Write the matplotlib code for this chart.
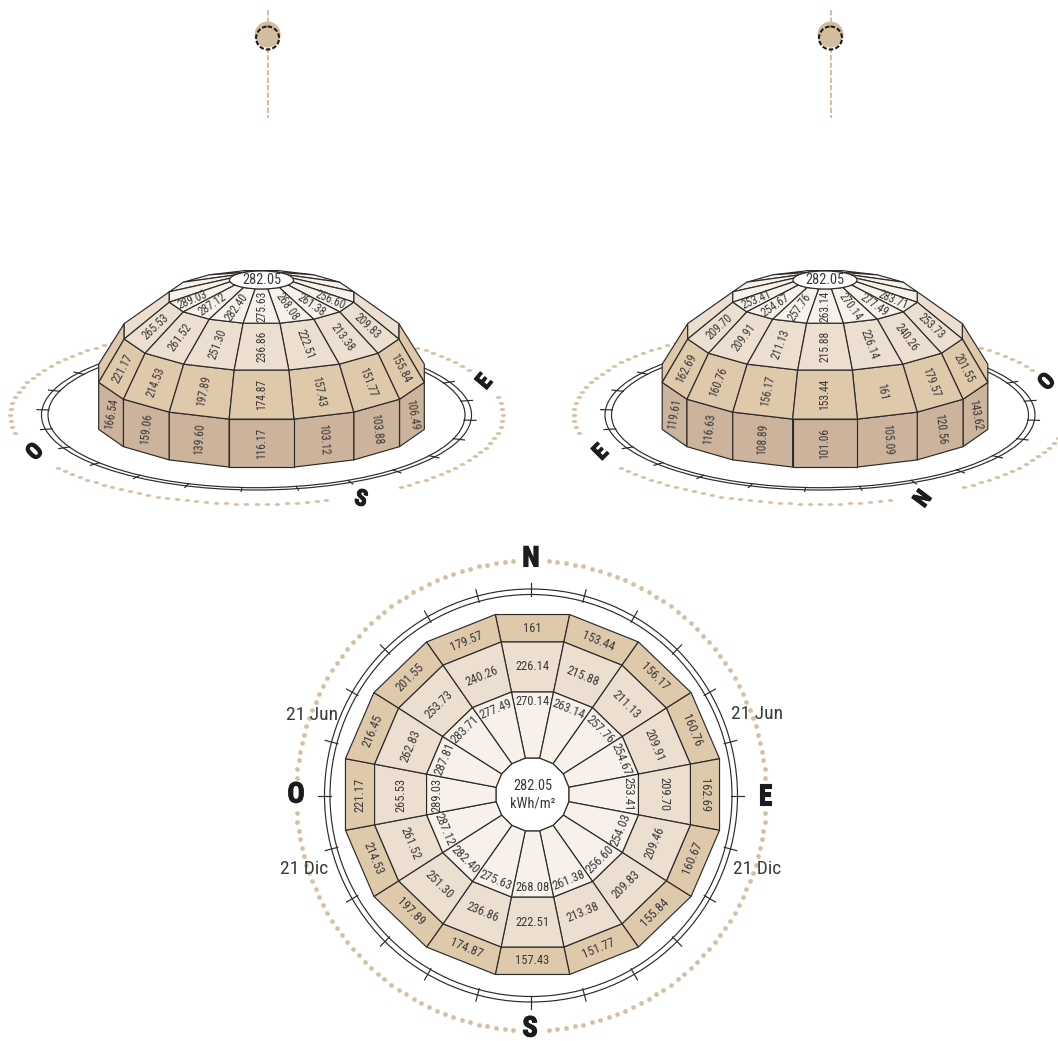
import matplotlib
matplotlib.use('Agg')
import matplotlib.pyplot as plt
import matplotlib.patheffects as pe
from matplotlib.patches import Polygon, Ellipse, Circle
from matplotlib.path import Path
import numpy as np

plt.rcParams['font.family'] = ['Roboto Condensed', 'Liberation Sans Narrow', 'Liberation Sans', 'DejaVu Sans']

# clockwise from north, one value per 22.5 degree sector
ring3 = [161, 153.44, 156.17, 160.76, 162.69, 160.67, 155.84, 151.77,
         157.43, 174.87, 197.89, 214.53, 221.17, 216.45, 201.55, 179.57]
ring2 = [226.14, 215.88, 211.13, 209.91, 209.70, 209.46, 209.83, 213.38,
         222.51, 236.86, 251.30, 261.52, 265.53, 262.83, 253.73, 240.26]
ring1 = [270.14, 263.14, 257.76, 254.67, 253.41, 254.03, 256.60, 261.38,
         268.08, 275.63, 282.40, 287.12, 289.03, 287.81, 283.71, 277.49]

# walls only visible for the seven front sectors, left to right
wall_south = [166.54, 159.06, 139.60, 116.17, 103.12, 103.88, 106.49]
wall_north = [119.61, 116.63, 108.89, 101.06, 105.09, 120.56, 143.62]

top_value = '282.05'
unit = 'kWh/m²'
fmt = lambda v: ('%.2f' % v) if v != int(v) else str(int(v))

INK = '#2b2b2b'
TXT = '#3a3a3a'
SAND = '#d6bfa3'
C_WALL = '#cbb49b'
C_R3 = '#dec9ab'
C_R2 = '#ecdfcf'
C_R1 = '#f7f1e9'
LW = 0.85

fig = plt.figure(figsize=(10.58, 10.41), dpi=100)
ax = fig.add_axes([0, 0, 1, 1])
ax.set_xlim(0, 1058)
ax.set_ylim(1041, 0)
ax.axis('off')


def sun(x):
    ax.plot([x, x], [10, 118], color=SAND, lw=1.5, dashes=(2.6, 1.0), zorder=1)
    ax.add_patch(Circle((x, 34.5), 13, fc='#d3bc9f', ec='none', zorder=2))
    ax.add_patch(Circle((x, 38), 11.5, fc='none', ec='#1c1c1c', lw=1.5,
                        ls=(0, (2.2, 1.0)), zorder=3))


def bold_letter(x, y, s, size, rot=0):
    ax.text(x, y, s, fontsize=size, fontweight='bold', rotation=rot, color='#1c1c1c',
            ha='center', va='center', rotation_mode='anchor', zorder=20,
            path_effects=[pe.withStroke(linewidth=0.8, foreground='#1c1c1c')])


def plan():
    cx, cy = 532.5, 794.5
    rings = [(37, 37), (108, 104.5), (161, 155.5), (190.7, 183.5)]
    fills = [C_R1, C_R2, C_R3]
    values = [ring1, ring2, ring3]
    where = [0.85, 0.5, 0.5]

    def pt(az, r):
        a = np.radians(az)
        return cx + r[0] * np.sin(a), cy - r[1] * np.cos(a)

    # sky dots and double circle
    ccx, ccy = 531, 795.5
    az = np.arange(0, 360, 360 / 168)
    d = (az + 45) % 90 - 45
    az = az[np.abs(d) > 3.6]
    ax.plot(ccx + 235 * np.sin(np.radians(az)), ccy - 235 * np.cos(np.radians(az)), 'o',
            color=SAND, ms=3.4, mew=0, zorder=1)
    for r in (201, 206.5):
        ax.add_patch(Circle((ccx, ccy), r, fc='none', ec=INK, lw=LW, zorder=2))
    for t in np.radians(np.arange(0, 360, 15)):
        ax.plot([ccx + 200 * np.sin(t), ccx + 213 * np.sin(t)],
                [ccy - 200 * np.cos(t), ccy - 213 * np.cos(t)], color=INK, lw=LW, zorder=2)

    for i, vals in enumerate(values):
        for k, v in enumerate(vals):
            m = 22.5 * k
            a0, a1 = m - 11.25, m + 11.25
            ax.add_patch(Polygon([pt(a0, rings[i]), pt(a1, rings[i]), pt(a1, rings[i + 1]), pt(a0, rings[i + 1])],
                                 fc=fills[i], ec=INK, lw=LW, zorder=3 + (2 - i)))
            ap = np.cos(np.radians(11.25))
            r = (rings[i][0] + where[i] * (rings[i + 1][0] - rings[i][0])) * ap, \
                (rings[i][1] + where[i] * (rings[i + 1][1] - rings[i][1])) * ap
            x, y = pt(m, r)
            if m <= 90:
                rot = -m
            elif m < 270:
                rot = 180 - m
            else:
                rot = 360 - m
            ax.text(x, y, fmt(v), fontsize=9, color=TXT, rotation=rot, ha='center', va='center',
                    rotation_mode='anchor', zorder=10)

    cap = np.radians(np.arange(11.25, 371.25, 22.5))
    ax.add_patch(Polygon(np.c_[cx + 37 * np.sin(cap), cy - 37 * np.cos(cap)], fc='white', ec=INK, lw=LW, zorder=8))
    ax.text(cx, cy - 8, top_value, fontsize=10.4, color=TXT, ha='center', va='center', zorder=10)
    ax.text(cx, cy + 9, unit, fontsize=10.4, color=TXT, ha='center', va='center', zorder=10)

    bold_letter(531, 559, 'N', 20.5)
    bold_letter(530, 1029, 'S', 20.5)
    bold_letter(296, 795, 'O', 20.5)
    bold_letter(765, 797, 'E', 20.5)
    for x, y, s in [(312, 715, '21 Jun'), (757, 714, '21 Jun'), (304, 869, '21 Dic'), (757, 869, '21 Dic')]:
        ax.text(x, y, s, fontsize=14, color=TXT, ha='center', va='center', zorder=10)


def dome(cx, view, wall, letters):
    # levels: half width, centre y, half height
    levels = [(32, 280, 9), (94, 297, 26.7), (140, 331.3, 39.5), (166, 373.3, 46.7), (166, 420, 48)]
    fills = [C_R1, C_R2, C_R3, C_WALL]

    def pt(rel, lv):
        a = np.radians(rel)
        return np.array([cx + levels[lv][0] * np.sin(a), levels[lv][1] + levels[lv][2] * np.cos(a)])

    # ground circle, centred a little left of the dome
    gx, gy = cx - 5, 415
    dot = Path(Path.unit_circle().vertices * [1, 0.5], Path.unit_circle().codes)
    n = 132
    fine = np.radians(np.arange(0, 360.5, 0.5))
    arc = np.r_[0, np.cumsum(np.hypot(np.diff(246.5 * np.sin(fine)), np.diff(89 * np.cos(fine))))]
    even = np.arange(n) * arc[-1] / n
    t = 0.5 * (np.interp(even, arc, fine) + np.arange(n) * 2 * np.pi / n)
    tt = (np.degrees(t) + 180) % 360 - 180
    keep = ~(((tt > -77) & (tt < -56)) | ((tt > 18) & (tt < 35)) | ((tt > 105) & (tt < 119)))
    t = t[keep]
    ax.plot(gx + 246.5 * np.sin(t), gy + 89 * np.cos(t), ls='none', marker=dot, color=SAND, ms=4.0, mew=0, zorder=1)
    for a, b in [(208.5, 72.7), (215, 75)]:
        ax.add_patch(Ellipse((gx, gy), 2 * a, 2 * b, fc='none', ec=INK, lw=LW, zorder=2))
    for k in range(24):
        q = np.radians(-4 + 15 * k)
        ax.plot([gx + 208 * np.sin(q), gx + 220 * np.sin(q)], [gy + 72.7 * np.cos(q), gy + 76.7 * np.cos(q)],
                color=INK, lw=LW, zorder=2)

    rels = sorted([((view - 22.5 * k + 180) % 360 - 180, k) for k in range(16)], key=lambda s: -abs(s[0]))
    z = 4
    for band in (3, 2, 1, 0):
        for rel, k in rels:
            if band > 0 and abs(rel) > 90:
                continue
            if band == 3 and abs(rel) > 67.5:
                continue
            a0, a1 = rel - 11.25, rel + 11.25
            z += 0.01
            ax.add_patch(Polygon([pt(a0, band), pt(a1, band), pt(a1, band + 1), pt(a0, band + 1)],
                                 fc=fills[band], ec=INK, lw=LW, joinstyle='round', zorder=z))
            if abs(rel) > 67.5:
                continue
            inner = (pt(a0, band) + pt(a1, band)) / 2
            outer = (pt(a0, band + 1) + pt(a1, band + 1)) / 2
            if band == 3:
                v = wall[int(round(rel / 22.5)) + 3]
                rot = (90 - abs(rel) * 0.15) * (1 if rel <= 0 else -1)
                pos = (inner + outer) / 2
            else:
                v = [ring1, ring2, ring3][band][k]
                f = 0.5
                if band == 0:
                    # cap is an ellipse, so measure from its rim
                    inner = np.array([cx + 32 * np.sin(np.radians(rel)), 280 + 9 * np.cos(np.radians(rel))])
                    f = 0.5 + 0.2 * abs(rel) / 67.5
                pos = inner + f * (outer - inner)
                d = outer - inner
                rot = np.degrees(np.arctan2(-d[1], d[0]))
                rot = (rot + 90) % 180 - 90
                if abs(rel) < 1:
                    rot = 90
            ax.text(pos[0], pos[1], fmt(v), fontsize=8.3, color=TXT, rotation=rot, ha='center', va='center',
                    rotation_mode='anchor', zorder=10)

    ax.add_patch(Ellipse((cx, 280), 64, 18, fc='white', ec=INK, lw=LW, zorder=8))
    ax.text(cx, 280, top_value, fontsize=10.4, color=TXT, ha='center', va='center', zorder=10)
    for dx, y, s, rot in letters:
        bold_letter(cx + dx, y, s, 16.5, rot)


sun(267.6)
sun(830.5)
plan()
dome(261.5, 202.5, wall_south, [(-226.5, 452, 'O', 45), (99.5, 499, 'S', -15), (223, 382, 'E', 50)])
dome(825, 22.5, wall_north, [(-224.3, 452.5, 'E', 45), (98, 499, 'N', 53), (222, 382, 'O', 45)])

fig.savefig('out.png', dpi=100)
